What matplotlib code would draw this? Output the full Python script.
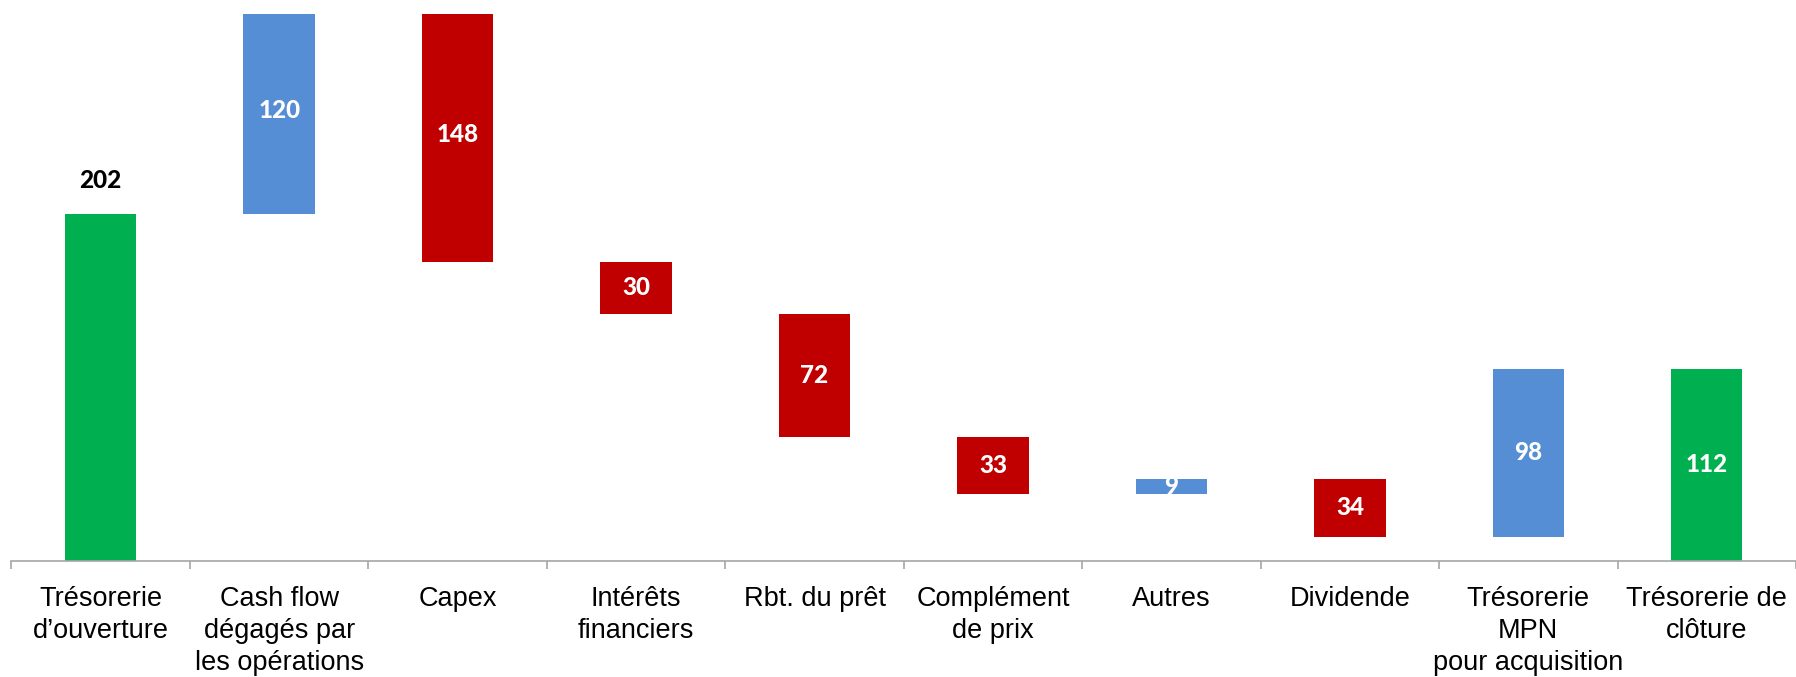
import matplotlib
matplotlib.use("Agg")
import matplotlib.pyplot as plt
import numpy as np

# Waterfall data
categories = [
    "Trésorerie\nd’ouverture",
    "Cash flow\ndégagés par\nles opérations",
    "Capex",
    "Intérêts\nfinanciers",
    "Rbt. du prêt",
    "Complément\nde prix",
    "Autres",
    "Dividende",
    "Trésorerie\nMPN\npour acquisition",
    "Trésorerie de\nclôture",
]
opening = 202
changes = [120, -148, -30, -72, -33, 9, -34, 98]
closing = 112

col_total = "#00B050"
col_up = "#558ED5"
col_down = "#C00000"
col_axis = "#A6A6A6"

cat_font = ["Liberation Sans", "DejaVu Sans"]
num_font = ["Lato", "DejaVu Sans"]

# build bottoms / heights
bottoms, heights, colors, labels = [0], [opening], [col_total], [opening]
level = opening
for c in changes:
    if c >= 0:
        bottoms.append(level)
        colors.append(col_up)
    else:
        bottoms.append(level + c)
        colors.append(col_down)
    heights.append(abs(c))
    labels.append(abs(c))
    level += c
bottoms.append(0)
heights.append(closing)
colors.append(col_total)
labels.append(closing)

x = np.arange(len(categories))

fig = plt.figure(figsize=(17.96, 6.77), dpi=100)
ax = fig.add_axes([0.0064, 0.171, 0.9936, 0.808])

ax.bar(x, heights, bottom=bottoms, width=0.4, color=colors,
       edgecolor="none", zorder=2)

for i, (b, h, v) in enumerate(zip(bottoms, heights, labels)):
    if i == 0:
        ax.annotate(str(v), (x[i], b + h), xytext=(0, 24),
                    textcoords="offset points", ha="center", va="center",
                    fontsize=17.5, weight=900, color="black",
                    family=num_font)
    else:
        ax.text(x[i], b + h / 2, str(v), ha="center", va="center",
                fontsize=17.5, weight=900, color="white",
                family=num_font, zorder=3)

ax.set_xlim(-0.5, len(categories) - 0.5)
ax.set_ylim(0, 318)

for s in ["top", "right", "left"]:
    ax.spines[s].set_visible(False)
ax.spines["bottom"].set_color(col_axis)
ax.spines["bottom"].set_linewidth(1.2)
ax.set_yticks([])

ax.set_xticks(x)
ax.set_xticklabels(categories, fontsize=19.5, family=cat_font)
ax.set_xticks(np.arange(-0.5, len(categories)), minor=True)
ax.tick_params(axis="x", which="major", length=0, pad=18)
ax.tick_params(axis="x", which="minor", length=6, width=1.2,
               color=col_axis, direction="out")
for t in ax.get_xticklabels():
    t.set_linespacing(1.3)
    t.set_verticalalignment("top")

fig.savefig("out.png", dpi=100)
